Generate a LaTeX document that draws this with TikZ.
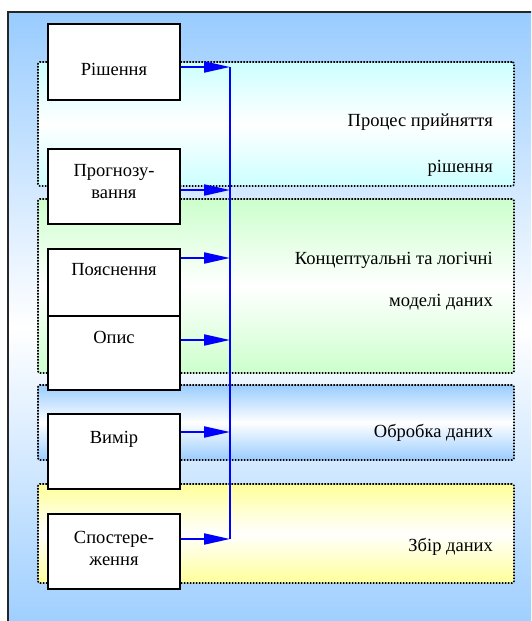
\documentclass[tikz,border=0pt]{standalone}
\usepackage{fontspec}
\setmainfont{Liberation Serif}
\newfontfamily\diagfont{Liberation Serif}
\usetikzlibrary{arrows.meta}
\definecolor{bgblue}{HTML}{99CCFF}
\definecolor{bandcyan}{HTML}{CCFFFF}
\definecolor{bandgreen}{HTML}{CCFFCC}
\definecolor{bandblue}{HTML}{99CCFF}
\definecolor{bandyellow}{HTML}{FFFF99}
\definecolor{linkblue}{HTML}{0000FF}
\tikzset{
  zone/.style={draw=black, dash pattern=on 1.6pt off 1.4pt, line width=1.6pt, rounded corners=2pt, inner sep=0pt, minimum width=476pt},
  stepbox/.style={draw=black, fill=white, line width=1.3pt, minimum width=132pt, inner sep=0pt},
  boxtext/.style={font=\diagfont\fontsize{18.5}{22}\selectfont, align=center, inner sep=0pt},
  zonetext/.style={align=right, anchor=east, inner sep=0pt},
  link/.style={draw=linkblue, line width=2pt, -{Triangle[length=26pt,width=11pt]}},
  spine/.style={draw=linkblue, line width=1.6pt}
}
\begin{document}
\begin{tikzpicture}[x=1pt,y=-1pt]
\useasboundingbox (0,0) rectangle (531,621);
\clip (0,0) rectangle (531,621);
% outer frame
\draw[line width=1.6pt, draw=black!85, top color=bgblue, bottom color=bgblue, middle color=white]
  (8,12) rectangle (548,642);
% zones
\node[zone, minimum height=124pt, top color=bandcyan, bottom color=bandcyan, middle color=white] (z1) at (276,124) {};
\node[zone, minimum height=174pt, top color=bandgreen, bottom color=bandgreen, middle color=white] (z2) at (276,286) {};
\node[zone, minimum height=75pt, top color=bandblue, bottom color=bandblue, middle color=white] (z3) at (276,422.5) {};
\node[zone, minimum height=99pt, top color=bandyellow, bottom color=bandyellow, middle color=white] (z4) at (276,533.5) {};
% zone labels
\node[zonetext, font=\diagfont\fontsize{18.5}{46}\selectfont] (t1) at (493,145) {Процес прийняття\\рішення};
\node[zonetext, font=\diagfont\fontsize{18.5}{42.7}\selectfont] (t2) at (493,281.3) {Концептуальні та логічні\\моделі даних};
\node[zonetext, font=\diagfont\fontsize{18.5}{22}\selectfont] (t3) at (493,433) {Обробка даних};
\node[zonetext, font=\diagfont\fontsize{18.5}{22}\selectfont] (t4) at (493,547) {Збір даних};
% spine coordinates
\coordinate (c1) at (230,67);
\coordinate (c2) at (230,190);
\coordinate (c3) at (230,258);
\coordinate (c4) at (230,340);
\coordinate (c5) at (230,432);
\coordinate (c6) at (230,539);
\draw[spine] (c1) -- (c6);
% boxes
\node[stepbox, minimum height=76pt, label={[boxtext, yshift=-7.5pt]center:Рішення}] (b1) at (114,62) {};
\node[stepbox, minimum height=75pt, label={[boxtext, yshift=5pt]center:Прогнозу-\\вання}] (b2) at (114,186.5) {};
\node[stepbox, minimum height=67pt, label={[boxtext, yshift=12.5pt]center:Пояснення}] (b3) at (114,282.5) {};
\node[stepbox, minimum height=74pt, label={[boxtext, yshift=16pt]center:Опис}] (b4) at (114,353) {};
\node[stepbox, minimum height=75pt, label={[boxtext, yshift=12.5pt]center:Вимір}] (b5) at (114,451.5) {};
\node[stepbox, minimum height=75pt, label={[boxtext, yshift=3.5pt]center:Спостере-\\ження}] (b6) at (114,551.5) {};
% links
\draw[link] (c1 -| b1.east) -- (c1);
\draw[link] (c2 -| b2.east) -- (c2);
\draw[link] (c3 -| b3.east) -- (c3);
\draw[link] (c4 -| b4.east) -- (c4);
\draw[link] (c5 -| b5.east) -- (c5);
\draw[link] (c6 -| b6.east) -- (c6);
\end{tikzpicture}
\end{document}
